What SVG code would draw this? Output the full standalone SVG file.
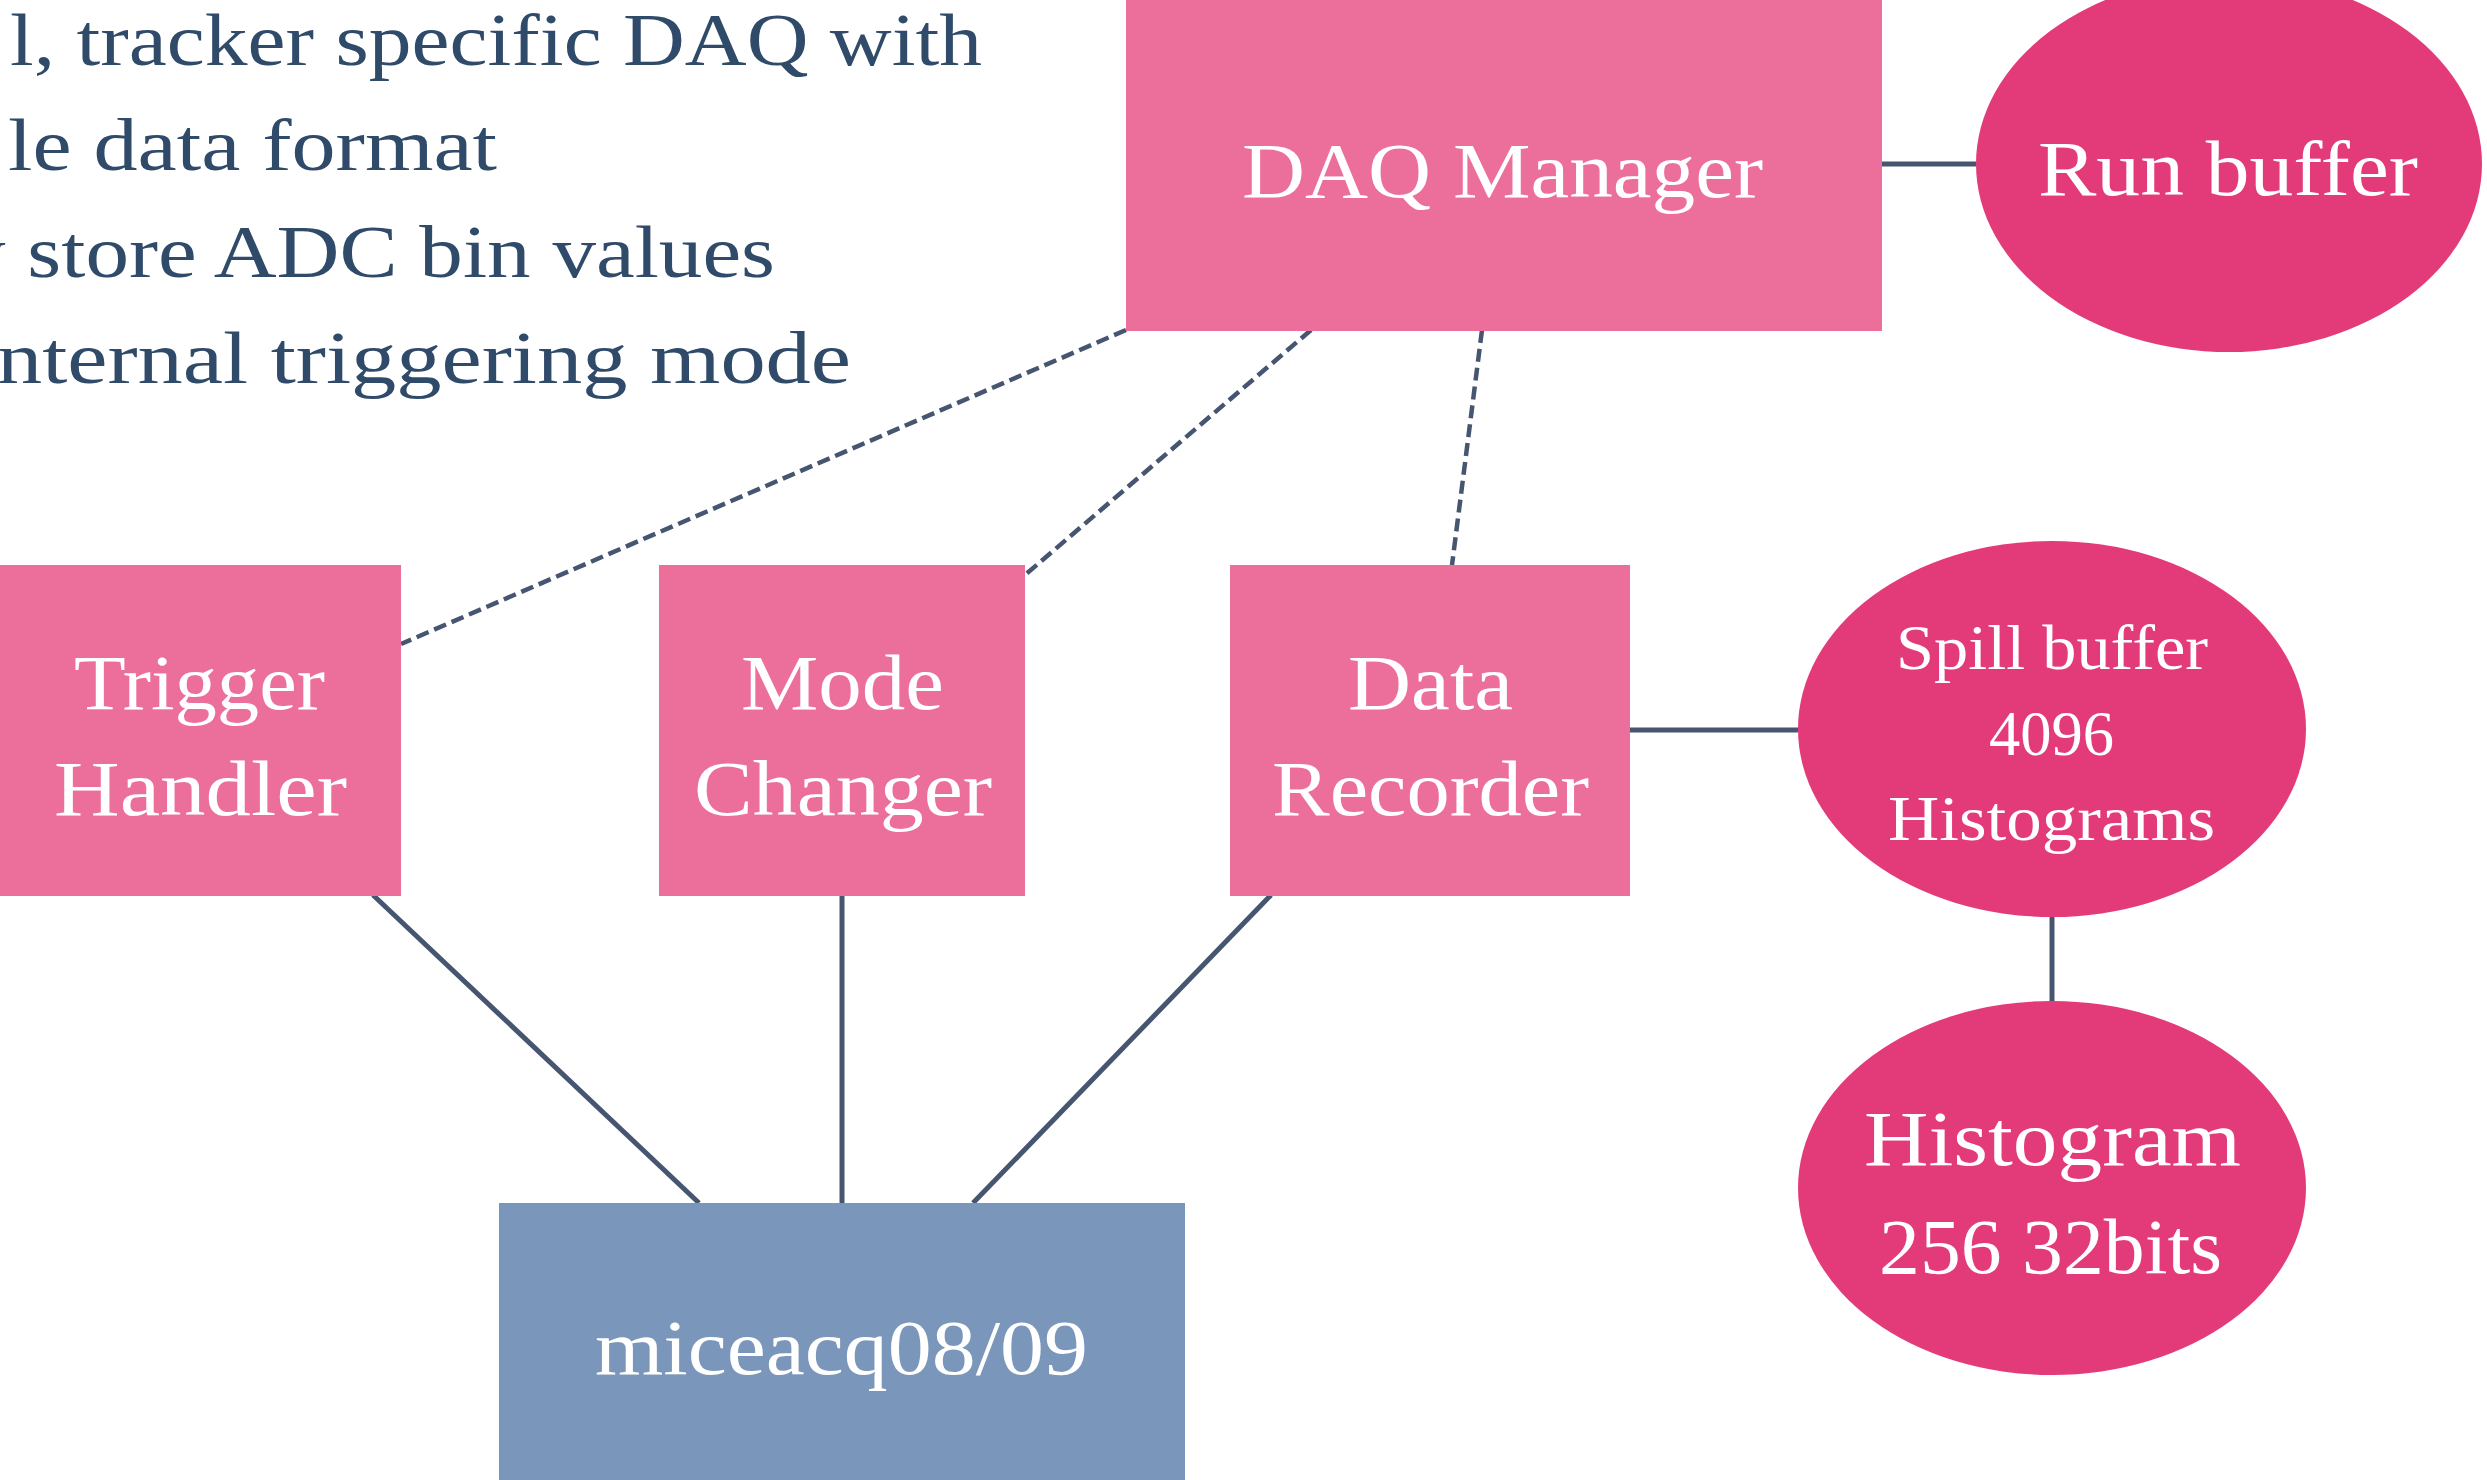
<svg xmlns="http://www.w3.org/2000/svg" width="2487" height="1480" viewBox="0 0 2487 1480">
<style>
.bg{fill:#ffffff}
.box{fill:#ec6f9b}
.oval{fill:#e33b79}
.host{fill:#7a97bb}
.lbl{font-family:"Liberation Serif","Times New Roman",serif;fill:#ffffff;font-size:78px}
.sm{font-size:64px}
.body{font-family:"Liberation Serif","Times New Roman",serif;fill:#304a6a;font-size:74px}
.solid{stroke:#465670;stroke-width:5;fill:none}
.dash{stroke:#465670;stroke-width:4.5;fill:none;stroke-dasharray:13 6}
</style>
<rect class="bg" x="0" y="0" width="2487" height="1480"/>
<g id="bullets">
<text class="body" x="10" y="65" textLength="972" lengthAdjust="spacingAndGlyphs">l, tracker specific DAQ with</text>
<text class="body" x="8" y="170" textLength="489" lengthAdjust="spacingAndGlyphs">le data format</text>
<text class="body" x="-38" y="277" textLength="813" lengthAdjust="spacingAndGlyphs">y store ADC bin values</text>
<text class="body" x="-3" y="383" textLength="854" lengthAdjust="spacingAndGlyphs">nternal triggering mode</text>
</g>
<g id="connectors">
<line class="solid" x1="1882" y1="164" x2="1976" y2="164"/>
<line class="solid" x1="1630" y1="730" x2="1798" y2="730"/>
<line class="solid" x1="2052" y1="917" x2="2052" y2="1001"/>
<line class="solid" x1="373" y1="895" x2="699" y2="1203"/>
<line class="solid" x1="842" y1="895" x2="842" y2="1203"/>
<line class="solid" x1="1271" y1="895" x2="973" y2="1203"/>
<line class="dash" x1="1126" y1="330" x2="401" y2="644"/>
<line class="dash" x1="1311" y1="330" x2="1025" y2="575"/>
<line class="dash" x1="1482" y1="330" x2="1452" y2="565"/>
</g>
<g id="daq-manager">
<rect class="box" x="1126" y="0" width="756" height="331"/>
<text class="lbl" x="1242" y="197" textLength="521" lengthAdjust="spacingAndGlyphs">DAQ Manager</text>
</g>
<g id="run-buffer">
<ellipse class="oval" cx="2229" cy="164" rx="253" ry="188"/>
<text class="lbl" x="2038" y="195" textLength="380" lengthAdjust="spacingAndGlyphs">Run buffer</text>
</g>
<g id="trigger-handler">
<rect class="box" x="0" y="565" width="401" height="331"/>
<text class="lbl" x="74" y="709" textLength="251" lengthAdjust="spacingAndGlyphs">Trigger</text>
<text class="lbl" x="54" y="815" textLength="293" lengthAdjust="spacingAndGlyphs">Handler</text>
</g>
<g id="mode-changer">
<rect class="box" x="659" y="565" width="366" height="331"/>
<text class="lbl" x="741" y="709" textLength="203" lengthAdjust="spacingAndGlyphs">Mode</text>
<text class="lbl" x="694" y="815" textLength="298" lengthAdjust="spacingAndGlyphs">Changer</text>
</g>
<g id="data-recorder">
<rect class="box" x="1230" y="565" width="400" height="331"/>
<text class="lbl" x="1348" y="709" textLength="165" lengthAdjust="spacingAndGlyphs">Data</text>
<text class="lbl" x="1272" y="815" textLength="317" lengthAdjust="spacingAndGlyphs">Recorder</text>
</g>
<g id="spill-buffer">
<ellipse class="oval" cx="2052" cy="729" rx="254" ry="188"/>
<text class="lbl sm" x="1896" y="669" textLength="312" lengthAdjust="spacingAndGlyphs">Spill buffer</text>
<text class="lbl sm" x="1989" y="755" textLength="125" lengthAdjust="spacingAndGlyphs">4096</text>
<text class="lbl sm" x="1888" y="840" textLength="327" lengthAdjust="spacingAndGlyphs">Histograms</text>
</g>
<g id="histogram">
<ellipse class="oval" cx="2052" cy="1188" rx="254" ry="187"/>
<text class="lbl" x="1864" y="1165" textLength="377" lengthAdjust="spacingAndGlyphs">Histogram</text>
<text class="lbl" x="1879" y="1273" textLength="343" lengthAdjust="spacingAndGlyphs">256 32bits</text>
</g>
<g id="miceacq">
<rect class="host" x="499" y="1203" width="686" height="277"/>
<text class="lbl" x="595" y="1374" textLength="493" lengthAdjust="spacingAndGlyphs">miceacq08/09</text>
</g>
</svg>
